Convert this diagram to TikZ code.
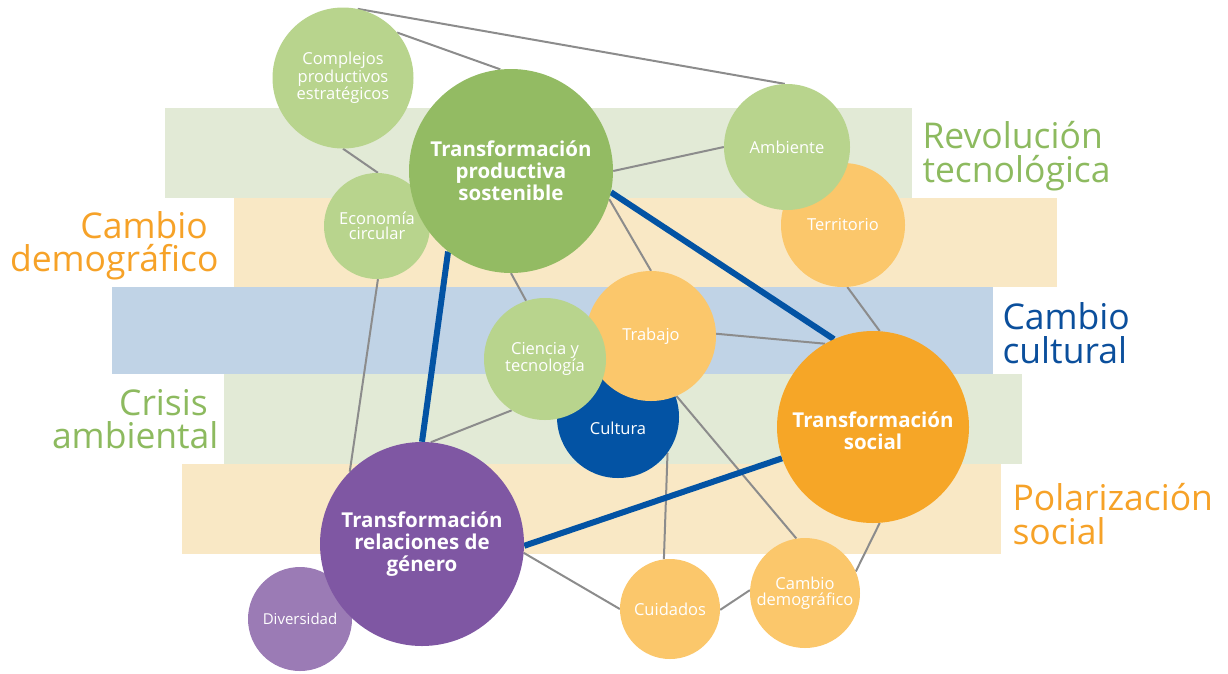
\documentclass[tikz,border=0pt]{standalone}
\usepackage{fontspec}
\setmainfont{Open Sans}

\definecolor{bandgreen}{HTML}{E2EAD6}
\definecolor{bandbeige}{HTML}{F9E8C5}
\definecolor{bandblue}{HTML}{C0D3E6}
\definecolor{txtgreen}{HTML}{8DBA5F}
\definecolor{txtorange}{HTML}{F6A228}
\definecolor{txtblue}{HTML}{0B4F9C}
\definecolor{lightgreen}{HTML}{B8D48D}
\definecolor{midgreen}{HTML}{93BB63}
\definecolor{lightorange}{HTML}{FBC76B}
\definecolor{deeporange}{HTML}{F6A627}
\definecolor{deepblue}{HTML}{0353A4}
\definecolor{purple}{HTML}{7F57A3}
\definecolor{lightpurple}{HTML}{9B7BB5}
\definecolor{linkgray}{HTML}{8C8C8C}

\pgfdeclarelayer{bands}
\pgfdeclarelayer{links}
\pgfsetlayers{bands,links,main}

\tikzset{
  bub/.style={circle, inner sep=0pt, align=center, text=white},
  smalltext/.style={font=\fontsize{16.5}{15.5}\selectfont},
  bigtext/.style={font=\fontsize{20.5}{22}\selectfont\bfseries},
  theme/.style={font=\fontsize{35.5}{33.5}\selectfont},
  link/.style={draw=linkgray, line width=2pt},
  mainlink/.style={draw=deepblue, line width=6pt}
}

\begin{document}
\begin{tikzpicture}[x=1pt,y=-1pt]
\useasboundingbox (0,0) rectangle (1228,673);

% horizontal theme bands
\begin{pgfonlayer}{bands}
  \fill[bandgreen] (165,108) rectangle (912,198);
  \fill[bandbeige] (234,198) rectangle (1057,287);
  \fill[bandblue]  (112,287) rectangle (993,374);
  \fill[bandgreen] (224,374) rectangle (1022,464);
  \fill[bandbeige] (182,464) rectangle (1001,554);
\end{pgfonlayer}

% theme labels
\node[theme, text=txtgreen, anchor=west, align=left] (revtec) at (919,156) {Revolución\\tecnológica};
\node[theme, text=txtorange, anchor=east, align=right] (camdem) at (222,246) {Cambio\kern0.3em\\demográfico};
\node[theme, text=txtblue, anchor=west, align=left] (camcul) at (999,333) {Cambio\\cultural};
\node[theme, text=txtgreen, anchor=east, align=right] (criamb) at (222,419) {Crisis\kern0.3em\\ambiental};
\node[theme, text=txtorange, anchor=west, align=left] (polsoc) at (1009,514) {Polarización\\social};

% circles
\node[bub, smalltext, fill=lightgreen, minimum size=141pt] (cps) at (343,78) {Complejos\\productivos\\estratégicos};
\node[bub, smalltext, fill=lightgreen, minimum size=106pt] (eco) at (377,226) {Economía\\circular};
\node[bub, bigtext, fill=midgreen, minimum size=204pt] (tps) at (511,171) {Transformación\\productiva\\sostenible};
\node[bub, smalltext, fill=lightorange, minimum size=124pt] (ter) at (843,225) {Territorio};
\node[bub, smalltext, fill=lightgreen, minimum size=126pt] (amb) at (787,147) {Ambiente};
\node[bub, fill=deepblue, minimum size=122pt,
      label={[text=white, font=\fontsize{16.5}{15.5}\selectfont, yshift=-11pt]center:Cultura}] (cul) at (618,417) {};
\node[bub, smalltext, fill=lightorange, minimum size=130pt] (tra) at (651,336) {Trabajo};
\node[bub, smalltext, fill=lightgreen, minimum size=122pt] (cyt) at (545,359) {Ciencia y\\tecnología};
\node[bub, fill=deeporange, minimum size=192pt,
      label={[text=white, font=\fontsize{20.5}{22}\selectfont\bfseries, align=center, yshift=-4pt]center:Transformación\\social}] (tso) at (873,427) {};
\node[bub, font=\fontsize{15}{15}\selectfont, fill=lightpurple, minimum size=104pt] (div) at (300,619) {Diversidad};
\node[bub, bigtext, fill=purple, minimum size=204pt] (gen) at (422,544) {Transformación\\relaciones de\\género};
\node[bub, smalltext, fill=lightorange, minimum size=100pt] (cui) at (670,609) {Cuidados};
\node[bub, smalltext, fill=lightorange, minimum size=110pt] (cdm) at (805,593) {Cambio\\demográfico};

% connectors
\begin{pgfonlayer}{links}
  \draw[link] (cps.78) -- (amb.92);
  \draw[link] (cps.40) -- (tps.96);
  \draw[link] (cps.270) -- (eco.89);
  \draw[link] (tps.0) -- (amb.180);
  \draw[link] (tps.-16) -- (tra.90);
  \draw[link] (tps.-90) -- (cyt.108);
  \draw[link] (eco.271) -- (gen.135);
  \draw[link] (ter.-86) -- (tso.86);
  \draw[link] (tra.2) -- (tso.120);
  \draw[link] (cyt.237) -- (gen.85);
  \draw[link] (tra.-67) -- (cdm.99);
  \draw[link] (cul.-36) -- (cui.97);
  \draw[link] (cui.-1) -- (cdm.177);
  \draw[link] (cdm.23) -- (tso.-86);
  \draw[link] (gen.-5) -- (cui.180);
  \draw[mainlink] (tps.-12) -- (tso.114);
  \draw[mainlink] (tps.232) -- (gen.90);
  \draw[mainlink] (gen.-1) -- (tso.199);
\end{pgfonlayer}
\end{tikzpicture}
\end{document}
